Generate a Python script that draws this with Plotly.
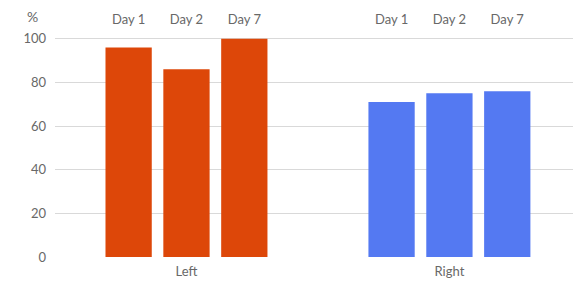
import plotly.graph_objects as go

sides = ["Left", "Right"]
days = ["Day 1", "Day 2", "Day 7"]
day1 = [96, 71]
day2 = [86, 75]
day7 = [100, 76]
side_colors = ["#DD4709", "#5479F2"]
y_ticks = [0, 20, 40, 60, 80, 100]

series = [day1, day2, day7]
LABEL_Y = 108.3
FONT = "Lato, 'Open Sans', sans-serif"
GREY = "#686868"

fig = go.Figure()
for name, vals in zip(days, series):
    fig.add_trace(go.Bar(
        x=sides, y=vals, name=name, offsetgroup=name,
        marker=dict(color=side_colors, line=dict(width=0)),
        showlegend=False, hoverinfo="skip",
    ))
for name in days:
    fig.add_trace(go.Scatter(
        x=sides, y=[LABEL_Y] * len(sides), mode="text", text=[name] * len(sides),
        offsetgroup=name, textfont=dict(family=FONT, size=13, color=GREY),
        showlegend=False, hoverinfo="skip", cliponaxis=False,
    ))

fig.add_annotation(
    text="%", xref="paper", yref="paper", x=-0.029, y=1.0, yshift=1, showarrow=False,
    xanchor="right", yanchor="middle", font=dict(family=FONT, size=14, color=GREY),
)

fig.update_layout(
    width=573, height=285,
    margin=dict(l=55, r=0, t=17, b=28),
    paper_bgcolor="white", plot_bgcolor="white",
    barmode="group", bargap=0.34, bargroupgap=0.2,
    scattermode="group", scattergap=0.34,
    xaxis=dict(range=[-0.5, 1.47], showgrid=False, showline=False, ticks="",
               tickfont=dict(family=FONT, size=13, color=GREY), ticklabelstandoff=5),
    yaxis=dict(range=[0, 110], tickvals=y_ticks, showgrid=True, gridcolor="#d9d9d9",
               gridwidth=1, zeroline=False, showline=False, ticks="",
               tickfont=dict(family=FONT, size=13, color=GREY), ticklabelstandoff=8),
)

fig.write_html("out.html", config={"displayModeBar": False},
               post_script="document.body.style.margin='0';")
